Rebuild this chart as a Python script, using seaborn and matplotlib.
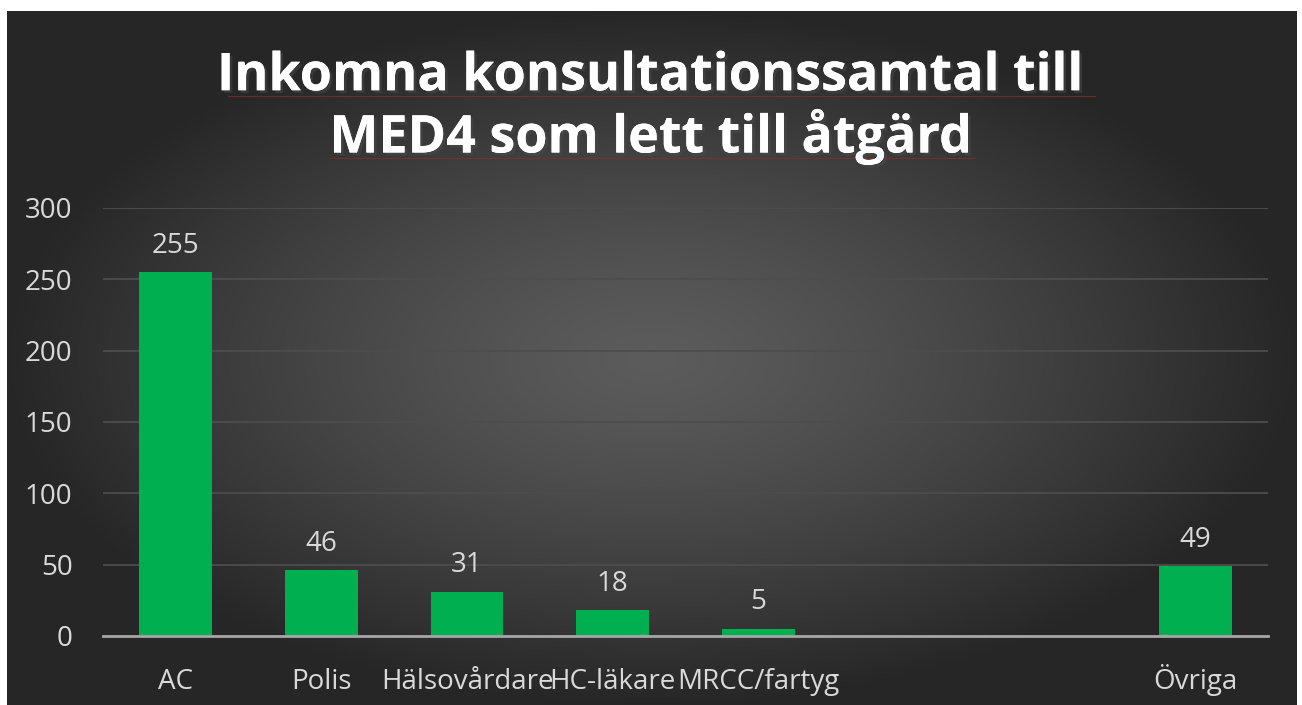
import numpy as np
import pandas as pd
import matplotlib.pyplot as plt
import seaborn as sns
from matplotlib.lines import Line2D
import matplotlib.patheffects as pe

# Datos
kategorier = ["AC", "Polis", "Hälsovårdare", "HC-läkare", "MRCC/fartyg", "Övriga"]
antal = [255, 46, 31, 18, 5, 49]
ordning = ["AC", "Polis", "Hälsovårdare", "HC-läkare", "MRCC/fartyg", " ", "  ", "Övriga"]
y_ticks = [0, 50, 100, 150, 200, 250, 300]
titel = "Inkomna konsultationssamtal till\nMED4 som lett till åtgärd"

df = pd.DataFrame({"kategori": kategorier, "antal": antal})

sns.set_style("white")
plt.rcParams['font.family'] = ['Open Sans', 'DejaVu Sans']

fig = plt.figure(figsize=(13.02, 7.05), dpi=100)
fig.patch.set_facecolor("white")

# Bakgrund med radiell gradient
bg = fig.add_axes([7 / 1302, 0, 1290 / 1302, 694 / 705])
yy, xx = np.mgrid[0:1:400j, 0:1:700j]
r = np.sqrt(((xx - 0.5) / 0.75) ** 2 + ((yy - 0.5) / 0.75) ** 2)
r = np.clip(r / 0.67, 0, 1)
grad = 0.36 - 0.21 * r ** 1.3
bg.imshow(np.dstack([grad, grad, grad]), aspect="auto", extent=[0, 1, 0, 1])
bg.set_axis_off()

ax = fig.add_axes([103 / 1302, 1 - 636 / 705, 1165 / 1302, 428 / 705])
ax.patch.set_alpha(0)
sns.barplot(data=df, x="kategori", y="antal", order=ordning, color="#00b050",
            saturation=1, width=0.5, linewidth=0, edgecolor="none", ax=ax)

ax.set_ylim(0, 300)
ax.set_yticks(y_ticks)
ax.set_xlim(-0.5, len(ordning) - 0.5)
ax.yaxis.grid(True, color="#4d4d4d", linewidth=1.3)
ax.set_axisbelow(True)
for s in ["top", "right", "left"]:
    ax.spines[s].set_visible(False)
ax.spines["bottom"].set_color("#a6a6a6")
ax.spines["bottom"].set_linewidth(2)
ax.tick_params(axis="both", length=0, labelsize=20, colors="#d9d9d9")
ax.tick_params(axis="x", pad=38)
ax.tick_params(axis="y", pad=22)
for lbl in ax.get_xticklabels():
    lbl.set_va("baseline")
ax.set_xlabel("")
ax.set_ylabel("")

for c in ax.containers:
    etiketter = [f"{v:.0f}" if not np.isnan(v) else "" for v in c.datavalues]
    ax.bar_label(c, labels=etiketter, padding=9, fontsize=20, color="#d9d9d9")

t = fig.text(0.5, 0.847, titel, ha="center", va="center", fontsize=37.5,
             fontweight="bold", color="white", linespacing=1.12,
             path_effects=[pe.withSimplePatchShadow(offset=(2, -2), alpha=0.45),
                           pe.Normal()])

# tunn röd understrykning (stavningskontroll)
fig.add_artist(Line2D([228 / 1302, 1095 / 1302], [1 - 96 / 705] * 2,
                      color="#8a2c2c", linewidth=0.8, alpha=0.7))
fig.add_artist(Line2D([330 / 1302, 975 / 1302], [1 - 158 / 705] * 2,
                      color="#8a2c2c", linewidth=0.8, alpha=0.7))

fig.savefig("out.png", dpi=100)
